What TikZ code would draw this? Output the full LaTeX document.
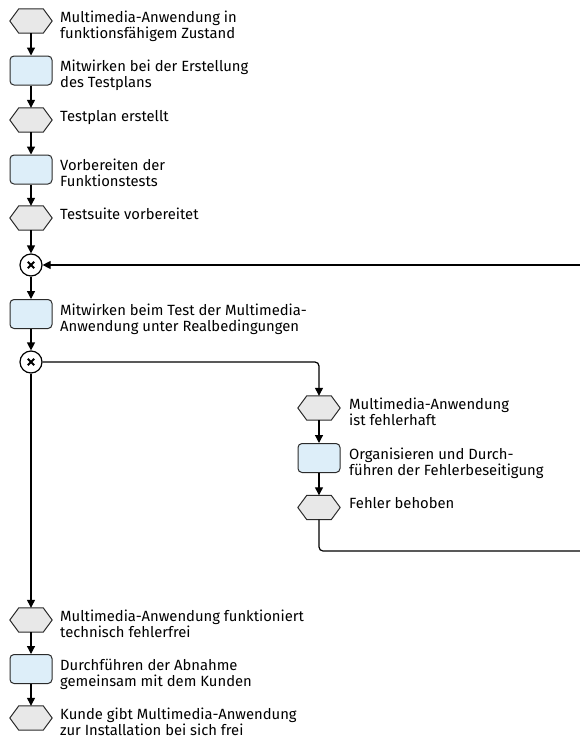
\documentclass[tikz,border=0pt]{standalone}
\usepackage{fontspec}
\setmainfont{Fira Sans}
\usetikzlibrary{arrows.meta}
\definecolor{hexfill}{HTML}{E8E8E8}
\definecolor{boxfill}{HTML}{DDEEF9}
\definecolor{edgecol}{HTML}{2B2B2B}
\newcommand{\twolines}[2]{\vtop{\baselineskip=16pt\hbox{#1}\hbox{#2}}}
\begin{document}
\begin{tikzpicture}[x=1pt,y=-1pt,
 hexbox/.style={rectangle,minimum width=42pt,minimum height=24pt,inner sep=0pt,draw=none},
 taskbox/.style={rectangle,rounded corners=4pt,minimum width=42pt,minimum height=29pt,inner sep=0pt,draw=edgecol,fill=boxfill,line width=1pt},
 hexline/.style={draw=edgecol,fill=hexfill,line width=1pt,line join=round},
 xorgate/.style={circle,minimum size=22pt,inner sep=0pt,draw=black,fill=white,line width=1.2pt,
   path picture={\draw[line width=1.8pt]
     ([shift={(-3.2pt,-3.2pt)}]path picture bounding box.center) -- ([shift={(3.2pt,3.2pt)}]path picture bounding box.center)
     ([shift={(-3.2pt,3.2pt)}]path picture bounding box.center) -- ([shift={(3.2pt,-3.2pt)}]path picture bounding box.center);}},
 lbl/.style={anchor=base west,inner sep=0pt,font=\fontsize{14.8}{16}\selectfont},
 flow/.style={line width=1.2pt,-{Triangle[length=8pt,width=8pt]}},
 plainline/.style={line width=1.2pt}
]
\useasboundingbox (0,0) rectangle (580,742);

% shapes
\node[hexbox]  (h1) at (31,21) {};
\node[taskbox] (b1) at (31,70.5) {};
\node[hexbox]  (h2) at (31,120) {};
\node[taskbox] (b2) at (31,169.5) {};
\node[hexbox]  (h3) at (31,218) {};
\node[xorgate] (c1) at (31,265) {};
\node[taskbox] (b3) at (31,314) {};
\node[xorgate] (c2) at (31,362) {};
\node[hexbox]  (h4) at (319,408) {};
\node[taskbox] (b4) at (319,458) {};
\node[hexbox]  (h5) at (319,507.5) {};
\node[hexbox]  (h6) at (31,620) {};
\node[taskbox] (b5) at (31,669) {};
\node[hexbox]  (h7) at (31,718) {};

\foreach \n in {h1,h2,h3,h4,h5,h6,h7}{
  \draw[hexline] (\n.west) -- ([xshift=9pt]\n.north west) -- ([xshift=-9pt]\n.north east)
    -- (\n.east) -- ([xshift=-9pt]\n.south east) -- ([xshift=9pt]\n.south west) -- cycle;
}

% labels
\node[lbl] (t1) at (60,22) {\twolines{Multimedia-Anwendung in}{funktionsfähigem Zustand}};
\node[lbl] (t2) at (60,71.5) {\twolines{Mitwirken bei der Erstellung}{des Testplans}};
\node[lbl] (t3) at (60,121) {Testplan erstellt};
\node[lbl] (t4) at (60,170.5) {\twolines{Vorbereiten der}{Funktionstests}};
\node[lbl] (t5) at (60,219) {Testsuite vorbereitet};
\node[lbl] (t6) at (60,315) {\twolines{Mitwirken beim Test der Multimedia-}{Anwendung unter Realbedingungen}};
\node[lbl] (t7) at (349,409) {\twolines{Multimedia-Anwendung}{ist fehlerhaft}};
\node[lbl] (t8) at (349,459) {\twolines{Organisieren und Durch-}{führen der Fehlerbeseitigung}};
\node[lbl] (t9) at (349,508.5) {Fehler behoben};
\node[lbl] (t10) at (60,621) {\twolines{Multimedia-Anwendung funktioniert}{technisch fehlerfrei}};
\node[lbl] (t11) at (60,670) {\twolines{Durchführen der Abnahme}{gemeinsam mit dem Kunden}};
\node[lbl] (t12) at (60,719) {\twolines{Kunde gibt Multimedia-Anwendung}{zur Installation bei sich frei}};

% free ends at the right edge
\coordinate (r1) at (580,265);
\coordinate (r2) at (580,551);

% connectors
\draw[flow] (h1.south) -- (b1.north);
\draw[flow] (b1.south) -- (h2.north);
\draw[flow] (h2.south) -- (b2.north);
\draw[flow] (b2.south) -- (h3.north);
\draw[flow] (h3.south) -- (c1.north);
\draw[flow] (c1.south) -- (b3.north);
\draw[flow] (b3.south) -- (c2.north);
\draw[flow] (r1) -- (c1.east);
\draw[flow,rounded corners=4pt] (c2.east) -| (h4.north);
\draw[flow] (h4.south) -- (b4.north);
\draw[flow] (b4.south) -- (h5.north);
\draw[plainline,rounded corners=4pt] (h5.south) |- (r2);
\draw[flow] (c2.south) -- (h6.north);
\draw[flow] (h6.south) -- (b5.north);
\draw[flow] (b5.south) -- (h7.north);
\end{tikzpicture}
\end{document}
